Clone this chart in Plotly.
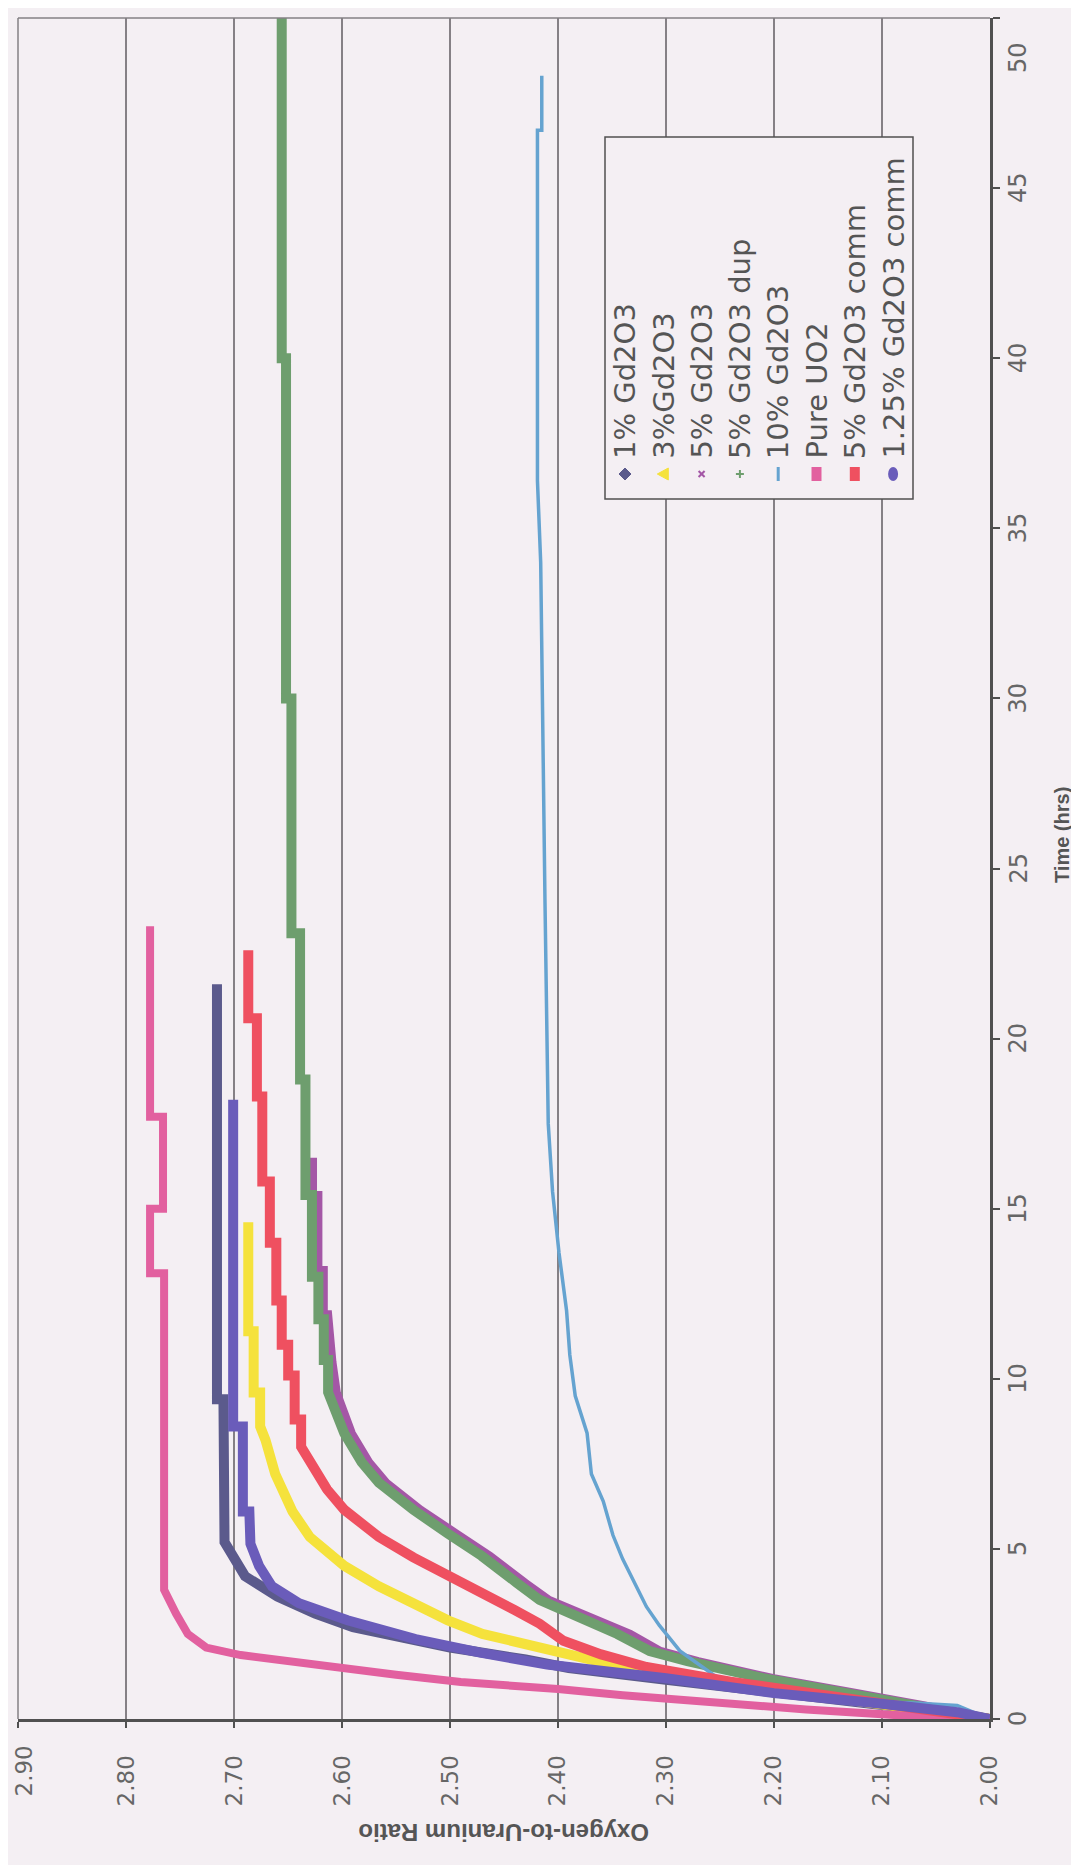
import plotly.graph_objects as go

# ---------------- data ----------------
# Time in hours (T_*) and oxygen-to-uranium ratio (R_*)
T_1PCT = [0, 0.20, 0.45, 0.75, 1.15, 1.50, 1.75, 2.10, 2.40, 2.70, 3.10, 3.60, 4.20, 5.20, 9.40, 9.40, 21.6]
R_1PCT = [2.000, 2.040, 2.110, 2.200, 2.300, 2.390, 2.430, 2.500, 2.550, 2.590, 2.625, 2.660, 2.690, 2.709, 2.710, 2.716, 2.716]

T_3PCT = [0, 0.40, 0.80, 1.20, 1.60, 2.10, 2.50, 2.90, 3.40, 3.90, 4.50, 5.35, 6.10, 7.20, 8.20, 8.60, 9.60, 9.60, 11.4, 11.4, 14.6]
R_3PCT = [2.000, 2.090, 2.190, 2.280, 2.350, 2.417, 2.470, 2.502, 2.534, 2.566, 2.598, 2.630, 2.646, 2.662, 2.671, 2.676, 2.676, 2.682, 2.682, 2.687, 2.687]

T_5PCT = [0, 0.4, 0.8, 1.2, 1.7, 2.0, 2.5, 3.2, 3.5, 4.0, 4.8, 5.45, 6.15, 6.95, 7.55, 8.4, 9.0, 9.6, 10.5, 11.9,
          11.9, 13.2, 13.2, 15.4, 15.4, 16.5]
R_5PCT = [2.000, 2.060, 2.130, 2.200, 2.270, 2.305, 2.333, 2.385, 2.408, 2.430, 2.463, 2.494, 2.527, 2.559, 2.575, 2.591, 2.598, 2.605, 2.609, 2.613,
          2.617, 2.617, 2.622, 2.622, 2.627, 2.627]

T_5DUP = [0, 0.4, 0.8, 1.2, 1.7, 2.0, 2.5, 3.2, 3.5, 4.0, 4.8, 5.45, 6.15, 6.95, 7.55, 8.4, 9.0, 9.6,
          10.55, 10.55, 11.75, 11.75, 13.0, 13.0, 15.4, 15.4, 18.8, 18.8, 23.1, 23.1, 30.0, 30.0, 40.0, 40.0, 50.0]
R_5DUP = [2.000, 2.070, 2.140, 2.210, 2.280, 2.315, 2.345, 2.395, 2.417, 2.438, 2.471, 2.502, 2.534, 2.566, 2.582, 2.598, 2.605, 2.613,
          2.613, 2.617, 2.617, 2.622, 2.622, 2.628, 2.628, 2.634, 2.634, 2.639, 2.639, 2.647, 2.647, 2.652, 2.652, 2.656, 2.656]

T_10PCT = [0, 0.40, 0.47, 0.56, 0.85, 1.30, 2.00, 2.75, 3.30, 4.15, 4.70, 5.40, 6.40, 7.20, 8.40, 9.50, 10.7, 12.0, 13.7, 15.5, 17.5, 24.0, 34.0, 36.4, 46.7, 46.7, 48.3]
R_10PCT = [2.000, 2.030, 2.070, 2.160, 2.225, 2.256, 2.287, 2.306, 2.318, 2.331, 2.340, 2.349, 2.358, 2.369, 2.373, 2.384, 2.389, 2.392, 2.399, 2.405, 2.409, 2.412, 2.416, 2.419, 2.419, 2.415, 2.415]

T_PURE = [0, 0.10, 0.28, 0.50, 0.70, 0.88, 1.09, 1.30, 1.50, 1.70, 1.88, 2.10, 2.50, 3.10, 3.80,
          13.1, 13.1, 15.0, 15.0, 17.7, 17.7, 23.3]
R_PURE = [2.000, 2.080, 2.170, 2.270, 2.340, 2.400, 2.490, 2.550, 2.598, 2.650, 2.694, 2.726, 2.743, 2.754, 2.765,
          2.765, 2.778, 2.778, 2.766, 2.766, 2.778, 2.778]

T_5COMM = [0, 0.30, 0.70, 1.10, 1.53, 1.90, 2.30, 2.80, 3.20, 3.70, 4.20, 4.75, 5.35, 6.15, 6.75, 7.55, 8.0,
           8.8, 8.8, 10.1, 10.1, 11.0, 11.0, 12.3, 12.3, 14.0, 14.0, 15.8, 15.8, 18.3, 18.3, 20.6, 20.6, 22.6]
R_5COMM = [2.000, 2.070, 2.160, 2.240, 2.318, 2.360, 2.395, 2.417, 2.440, 2.472, 2.502, 2.534, 2.566, 2.598, 2.614, 2.630, 2.638,
           2.638, 2.644, 2.644, 2.650, 2.650, 2.656, 2.656, 2.661, 2.661, 2.667, 2.667, 2.674, 2.674, 2.679, 2.679, 2.687, 2.687]

T_125COMM = [0, 0.20, 0.45, 0.76, 1.20, 1.60, 1.95, 2.35, 2.90, 3.40, 3.90, 4.50, 5.15, 6.10, 6.10, 8.60, 8.60, 18.2]
R_125COMM = [2.000, 2.030, 2.100, 2.200, 2.300, 2.410, 2.472, 2.532, 2.595, 2.640, 2.665, 2.677, 2.685, 2.686, 2.692, 2.692, 2.701, 2.701]

SERIES_NAMES = ["1% Gd2O3", "3%Gd2O3", "5% Gd2O3", "5% Gd2O3 dup", "10% Gd2O3",
                "Pure UO2", "5% Gd2O3 comm", "1.25% Gd2O3 comm"]
SERIES_COLORS = ["#5b5a8c", "#f5e23c", "#a457a6", "#6e9e6e", "#65a3d0",
                 "#e2609f", "#ef5060", "#6a5cba"]

OU_TICKS = [2.00, 2.10, 2.20, 2.30, 2.40, 2.50, 2.60, 2.70, 2.80, 2.90]
TIME_TICKS = [0, 5, 10, 15, 20, 25, 30, 35, 40, 45, 50]

# ---------------- layout geometry (screen pixels) ----------------
SCREEN_W, SCREEN_H = 1079, 1865
OFF = 8                      # default page margin of the html body
W, H = SCREEN_W - OFF, SCREEN_H - OFF
PL, PR, PT, PB = 18, 990, 18, 1719   # plot area on screen
BG = "#f4eff3"
GRID = "#858085"
AXIS = "#505050"
TXT = "#666666"
TICKFONT = dict(family="DejaVu Sans", size=23, color=TXT)
TIMEFONT = dict(family="DejaVu Sans", size=24, color=TXT)


def px(X):
    return (X - PL) / (PR - PL)


def py(Y):
    return (PB - Y) / (PB - PT)


times = [T_1PCT, T_3PCT, T_5PCT, T_5DUP, T_10PCT, T_PURE, T_5COMM, T_125COMM]
ratios = [R_1PCT, R_3PCT, R_5PCT, R_5DUP, R_10PCT, R_PURE, R_5COMM, R_125COMM]
widths = [10, 10, 8, 10, 3.5, 8, 10, 10]

fig = go.Figure()
for name, col, t, r, w in zip(SERIES_NAMES, SERIES_COLORS, times, ratios, widths):
    fig.add_trace(go.Scatter(x=r, y=t, mode="lines", name=name,
                             line=dict(color=col, width=w), showlegend=False))

shapes = []
annotations = []

# top border and left border (2.90 line)
shapes.append(dict(type="line", xref="paper", yref="paper", x0=0, x1=1, y0=1, y1=1,
                   line=dict(color=GRID, width=1.5)))
shapes.append(dict(type="line", xref="paper", yref="paper", x0=0, x1=0, y0=0, y1=1,
                   line=dict(color=GRID, width=1.5)))

# legend box
shapes.append(dict(type="rect", xref="paper", yref="paper", x0=px(605), x1=px(913),
                   y0=py(499), y1=py(137), line=dict(color=AXIS, width=1.5),
                   fillcolor=BG, layer="above"))

SYM_Y = 474
for i, (name, col) in enumerate(zip(SERIES_NAMES, SERIES_COLORS)):
    X = 625 + 38.3 * i
    if i == 0:  # diamond
        d = 6
        path = "M {} {} L {} {} L {} {} L {} {} Z".format(
            px(X - d), py(SYM_Y), px(X), py(SYM_Y - d), px(X + d), py(SYM_Y), px(X), py(SYM_Y + d))
        shapes.append(dict(type="path", xref="paper", yref="paper", path=path,
                           fillcolor=col, line=dict(color=col, width=1), layer="above"))
    elif i == 1:  # triangle pointing left
        path = "M {} {} L {} {} L {} {} Z".format(
            px(X - 6), py(SYM_Y), px(X + 5), py(SYM_Y - 6), px(X + 5), py(SYM_Y + 6))
        shapes.append(dict(type="path", xref="paper", yref="paper", path=path,
                           fillcolor=col, line=dict(color=col, width=1), layer="above"))
    elif i == 2:  # x
        for s in (-1, 1):
            shapes.append(dict(type="line", xref="paper", yref="paper",
                               x0=px(X - 3), x1=px(X + 3), y0=py(SYM_Y - 3 * s), y1=py(SYM_Y + 3 * s),
                               line=dict(color=col, width=2), layer="above"))
    elif i == 3:  # plus
        shapes.append(dict(type="line", xref="paper", yref="paper", x0=px(X - 4), x1=px(X + 4),
                           y0=py(SYM_Y), y1=py(SYM_Y), line=dict(color=col, width=2), layer="above"))
        shapes.append(dict(type="line", xref="paper", yref="paper", x0=px(X), x1=px(X),
                           y0=py(SYM_Y - 4), y1=py(SYM_Y + 4), line=dict(color=col, width=2), layer="above"))
    elif i == 4:  # dash (vertical)
        shapes.append(dict(type="line", xref="paper", yref="paper", x0=px(X), x1=px(X),
                           y0=py(SYM_Y - 7), y1=py(SYM_Y + 7), line=dict(color=col, width=3), layer="above"))
    elif i in (5, 6):  # squares
        shapes.append(dict(type="rect", xref="paper", yref="paper", x0=px(X - 5), x1=px(X + 5),
                           y0=py(SYM_Y + 7), y1=py(SYM_Y - 7), fillcolor=col,
                           line=dict(color=col, width=0), layer="above"))
    else:  # circle
        shapes.append(dict(type="circle", xref="paper", yref="paper", x0=px(X - 5), x1=px(X + 5),
                           y0=py(SYM_Y + 7), y1=py(SYM_Y - 7), fillcolor=col,
                           line=dict(color=col, width=0), layer="above"))
    annotations.append(dict(text=name, xref="paper", yref="paper", x=px(X), y=py(461),
                            xanchor="center", yanchor="bottom", textangle=-90, showarrow=False,
                            font=dict(family="DejaVu Sans", size=29, color="#555555")))

# O/U tick labels: the 2.90 label sits slightly inside the left edge, as in the reference
ou_text = ["%.2f" % v for v in OU_TICKS]
ou_text_axis = [s if s != "2.90" else "" for s in ou_text]
annotations.append(dict(text="2.90", xref="paper", yref="paper", x=px(23), y=py(1744),
                        xanchor="center", yanchor="top", textangle=-90, showarrow=False,
                        font=TICKFONT))

# Time tick labels (the top "50" is pulled inside the picture, as in the reference)
for v in TIME_TICKS:
    if v == TIME_TICKS[-1]:
        annotations.append(dict(text=str(v), xref="paper", yref="paper", x=px(1018), y=py(58),
                                xanchor="center", yanchor="middle", textangle=-90, showarrow=False,
                                font=TIMEFONT))
    else:
        annotations.append(dict(text=str(v), xref="paper", yref="y", x=px(1018), y=v,
                                xanchor="center", yanchor="middle", textangle=-90, showarrow=False,
                                font=TIMEFONT))

annotations.append(dict(text="Oxygen-to-Uranium Ratio", xref="paper", yref="paper",
                        x=px(504), y=py(1833), xanchor="center", yanchor="middle",
                        textangle=180, showarrow=False,
                        font=dict(family="Liberation Sans", size=24, color="#555555", weight="bold")))
annotations.append(dict(text="Time (hrs)", xref="paper", yref="paper",
                        x=px(1062), y=py(835), xanchor="center", yanchor="middle",
                        textangle=-90, showarrow=False,
                        font=dict(family="Liberation Sans", size=20, color="#555555", weight="bold")))

fig.update_layout(
    width=W, height=H, autosize=False,
    margin=dict(l=PL - OFF, r=SCREEN_W - PR, t=PT - OFF, b=SCREEN_H - PB, pad=0, autoexpand=False),
    paper_bgcolor=BG, plot_bgcolor=BG,
    shapes=shapes, annotations=annotations,
    xaxis=dict(range=[2.9004, 1.9996], tickvals=OU_TICKS, ticktext=ou_text_axis,
               tickangle=-90, showgrid=True, gridcolor=GRID, gridwidth=1.5, automargin=False,
               zeroline=False, showline=True, linecolor=AXIS, linewidth=3,
               ticks="outside", ticklen=6, tickcolor=AXIS, tickwidth=1.5,
               ticklabelstandoff=18,
               tickfont=TICKFONT),
    yaxis=dict(range=[0, 50], tickvals=TIME_TICKS, showticklabels=False,
               side="right", showgrid=False, zeroline=False, automargin=False,
               showline=True, linecolor=AXIS, linewidth=3,
               ticks="outside", ticklen=7, tickcolor=AXIS, tickwidth=1.5),
)

fig.write_html("out.html")
